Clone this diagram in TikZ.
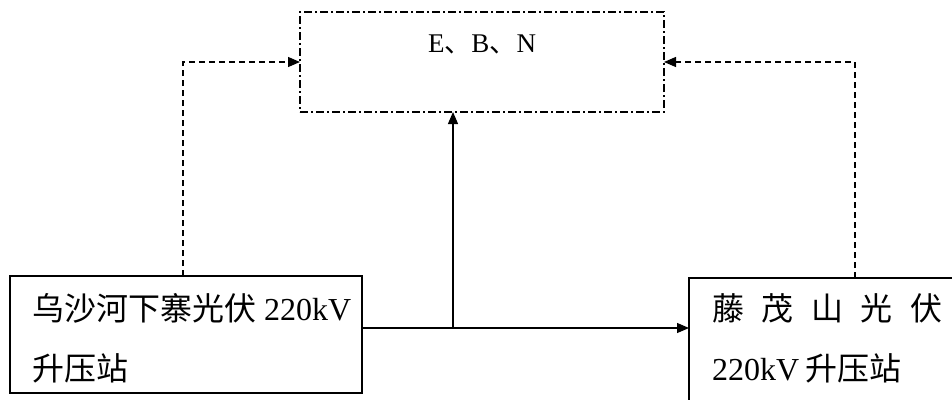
\documentclass[tikz,border=0pt]{standalone}
\usepackage{fontspec}
\setmainfont{Liberation Serif}
\newfontfamily\cjk{Noto Sans CJK SC}
\newfontfamily\tms{Liberation Serif}
\newcommand\latpart[1]{{\tms\fontsize{32}{38}\selectfont #1}}
\usetikzlibrary{arrows.meta}
\begin{document}
\begin{tikzpicture}[x=1pt,y=-1pt,
  box/.style={draw,line width=1.2pt,rectangle,inner sep=0pt,outer sep=0pt},
  conn/.style={line width=1.2pt,-{Triangle[length=12pt,width=10pt]}},
  dconn/.style={conn,dash pattern=on 6pt off 4pt},
  txt/.style={inner sep=0pt,anchor=base west,font=\cjk\fontsize{32}{38}\selectfont}]
\useasboundingbox (0,0) rectangle (952,399);
\clip (0,0) rectangle (952,399);
\node[box,dash pattern=on 8pt off 3pt on 2pt off 3pt,minimum width=364pt,minimum height=100pt] (T) at (482,62) {};
\node[box,minimum width=352pt,minimum height=117pt] (L) at (186,334.5) {};
\node[box,minimum width=280pt,minimum height=140pt] (R) at (829,348) {};
\node[inner sep=0pt,anchor=base,font=\tms\fontsize{27}{30}\selectfont] (tT) at (482,52) {E{\cjk 、}B{\cjk 、}N};
\node[txt] (tL1) at (32,320) {乌沙河下寨光伏\hspace{8pt}\latpart{220kV}};
\node[txt] (tL2) at (32,380) {升压站};
\node[txt] (tR1) at (712,320) {\hbox to 230pt{藤\hfill 茂\hfill 山\hfill 光\hfill 伏}};
\node[txt] (tR2) at (712,380) {\latpart{220kV}\hspace{6pt}升压站};
\coordinate (J) at (453,328);
\coordinate (a) at (183,62);
\coordinate (b) at (855,62);
\draw[conn] (J -| L.east) -- (J -| R.west);
\draw[conn] (J) -- (J |- T.south);
\draw[dconn] (a |- L.north) -- (a) -- (a -| T.west);
\draw[dconn] (b |- R.north) -- (b) -- (b -| T.east);
\end{tikzpicture}
\end{document}
